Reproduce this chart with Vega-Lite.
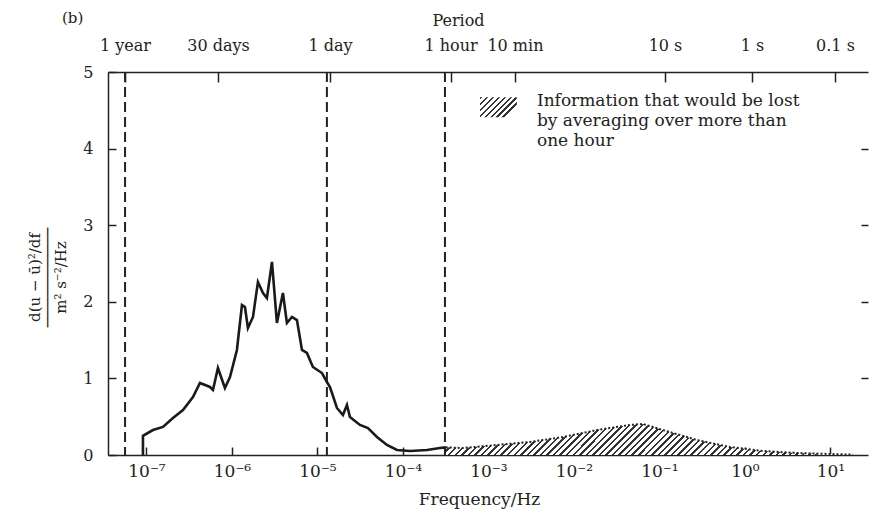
{
  "$schema": "https://vega.github.io/schema/vega-lite/v6.json",
  "width": 760,
  "height": 383,
  "autosize": {"type": "none"},
  "padding": {"left": 108, "top": 72, "right": 4, "bottom": 59},
  "background": "white",
  "config": {
    "view": {"stroke": null},
    "font": "DejaVu Serif",
    "axis": {"grid": false, "labelFont": "DejaVu Serif", "titleFont": "DejaVu Serif", "labelColor": "#222", "titleColor": "#222", "domainColor": "#222", "tickColor": "#222", "titleFontWeight": "normal", "domainWidth": 1.5, "tickWidth": 1.5, "labelFlush": false, "labelOverlap": false}
  },
  "title": {"text": "(b)", "anchor": "start", "frame": "group", "dx": -46, "dy": 14, "font": "DejaVu Serif", "fontSize": 15, "fontWeight": "normal", "color": "#222", "offset": 0},
  "datasets": {
    "curve": [
      {"f": 9.10e-8, "v": 0}, {"f": 9.10e-8, "v": 0.25}, {"f": 1.191e-7, "v": 0.326}, {"f": 1.560e-7, "v": 0.366},
      {"f": 2.042e-7, "v": 0.483}, {"f": 2.673e-7, "v": 0.587}, {"f": 3.499e-7, "v": 0.757}, {"f": 4.227e-7, "v": 0.94},
      {"f": 5.534e-7, "v": 0.888}, {"f": 5.998e-7, "v": 0.849}, {"f": 6.855e-7, "v": 1.136}, {"f": 8.279e-7, "v": 0.875},
      {"f": 9.484e-7, "v": 1.018}, {"f": 1.143e-6, "v": 1.371}, {"f": 1.309e-6, "v": 1.958}, {"f": 1.419e-6, "v": 1.932},
      {"f": 1.538e-6, "v": 1.658}, {"f": 1.762e-6, "v": 1.802}, {"f": 2.014e-6, "v": 2.258}, {"f": 2.307e-6, "v": 2.115},
      {"f": 2.564e-6, "v": 2.05}, {"f": 2.938e-6, "v": 2.52}, {"f": 3.357e-6, "v": 1.723}, {"f": 3.945e-6, "v": 2.115},
      {"f": 4.395e-6, "v": 1.723}, {"f": 5.035e-6, "v": 1.802}, {"f": 5.754e-6, "v": 1.762}, {"f": 6.592e-6, "v": 1.371},
      {"f": 7.534e-6, "v": 1.332}, {"f": 8.851e-6, "v": 1.149}, {"f": 1.130e-5, "v": 1.07}, {"f": 1.291e-5, "v": 0.953},
      {"f": 1.400e-5, "v": 0.888}, {"f": 1.479e-5, "v": 0.809}, {"f": 1.690e-5, "v": 0.614}, {"f": 1.986e-5, "v": 0.522},
      {"f": 2.213e-5, "v": 0.653}, {"f": 2.399e-5, "v": 0.496}, {"f": 3.141e-5, "v": 0.392}, {"f": 3.899e-5, "v": 0.352},
      {"f": 4.966e-5, "v": 0.235}, {"f": 6.501e-5, "v": 0.131}, {"f": 8.511e-5, "v": 0.065}, {"f": 1.208e-4, "v": 0.052},
      {"f": 1.910e-4, "v": 0.065}, {"f": 2.710e-4, "v": 0.091}, {"f": 3.162e-4, "v": 0.1}
    ],
    "hatch": [
      {"f": 3.162e-4, "v": 0.1}, {"f": 5.035e-4, "v": 0.091}, {"f": 1.256e-3, "v": 0.131}, {"f": 3.055e-3, "v": 0.17},
      {"f": 7.430e-3, "v": 0.235}, {"f": 1.858e-2, "v": 0.326}, {"f": 4.519e-2, "v": 0.392}, {"f": 6.412e-2, "v": 0.405},
      {"f": 0.1099, "v": 0.326}, {"f": 0.2748, "v": 0.196}, {"f": 0.6683, "v": 0.104}, {"f": 1.626, "v": 0.052},
      {"f": 4.055, "v": 0.026}, {"f": 9.863, "v": 0.013}, {"f": 18.32, "v": 0.005}
    ],
    "periods": [{"f": 5.62e-8}, {"f": 1.29e-5}, {"f": 3.1e-4}],
    "swatch": [{"f1": 7.96e-4, "f2": 2.15e-3, "v1": 4.41, "v2": 4.67}],
    "note": [{"f": 3.69e-3, "v": 4.56, "label": "Information that would be lost\nby averaging over more than\none hour"}]
  },
  "layer": [
    {
      "data": {"name": "hatch"},
      "mark": {"type": "area", "stroke": null, "fill": {"gradient": "linear", "x1": 0, "y1": 0, "x2": 1, "y2": 0.076, "stops": [
        {"offset":0,"color":"#333"},{"offset":0.006,"color":"#333"},{"offset":0.006,"color":"#fff"},{"offset":0.016,"color":"#fff"},
        {"offset":0.016,"color":"#333"},{"offset":0.022,"color":"#333"},{"offset":0.022,"color":"#fff"},{"offset":0.032,"color":"#fff"},
        {"offset":0.032,"color":"#333"},{"offset":0.038,"color":"#333"},{"offset":0.038,"color":"#fff"},{"offset":0.048,"color":"#fff"},
        {"offset":0.048,"color":"#333"},{"offset":0.054,"color":"#333"},{"offset":0.054,"color":"#fff"},{"offset":0.064,"color":"#fff"},
        {"offset":0.064,"color":"#333"},{"offset":0.07,"color":"#333"},{"offset":0.07,"color":"#fff"},{"offset":0.08,"color":"#fff"},
        {"offset":0.08,"color":"#333"},{"offset":0.086,"color":"#333"},{"offset":0.086,"color":"#fff"},{"offset":0.096,"color":"#fff"},
        {"offset":0.096,"color":"#333"},{"offset":0.102,"color":"#333"},{"offset":0.102,"color":"#fff"},{"offset":0.112,"color":"#fff"},
        {"offset":0.112,"color":"#333"},{"offset":0.118,"color":"#333"},{"offset":0.118,"color":"#fff"},{"offset":0.128,"color":"#fff"},
        {"offset":0.128,"color":"#333"},{"offset":0.134,"color":"#333"},{"offset":0.134,"color":"#fff"},{"offset":0.144,"color":"#fff"},
        {"offset":0.144,"color":"#333"},{"offset":0.15,"color":"#333"},{"offset":0.15,"color":"#fff"},{"offset":0.16,"color":"#fff"},
        {"offset":0.16,"color":"#333"},{"offset":0.166,"color":"#333"},{"offset":0.166,"color":"#fff"},{"offset":0.176,"color":"#fff"},
        {"offset":0.176,"color":"#333"},{"offset":0.182,"color":"#333"},{"offset":0.182,"color":"#fff"},{"offset":0.192,"color":"#fff"},
        {"offset":0.192,"color":"#333"},{"offset":0.198,"color":"#333"},{"offset":0.198,"color":"#fff"},{"offset":0.208,"color":"#fff"},
        {"offset":0.208,"color":"#333"},{"offset":0.214,"color":"#333"},{"offset":0.214,"color":"#fff"},{"offset":0.224,"color":"#fff"},
        {"offset":0.224,"color":"#333"},{"offset":0.23,"color":"#333"},{"offset":0.23,"color":"#fff"},{"offset":0.24,"color":"#fff"},
        {"offset":0.24,"color":"#333"},{"offset":0.246,"color":"#333"},{"offset":0.246,"color":"#fff"},{"offset":0.256,"color":"#fff"},
        {"offset":0.256,"color":"#333"},{"offset":0.262,"color":"#333"},{"offset":0.262,"color":"#fff"},{"offset":0.272,"color":"#fff"},
        {"offset":0.272,"color":"#333"},{"offset":0.278,"color":"#333"},{"offset":0.278,"color":"#fff"},{"offset":0.288,"color":"#fff"},
        {"offset":0.288,"color":"#333"},{"offset":0.294,"color":"#333"},{"offset":0.294,"color":"#fff"},{"offset":0.304,"color":"#fff"},
        {"offset":0.304,"color":"#333"},{"offset":0.31,"color":"#333"},{"offset":0.31,"color":"#fff"},{"offset":0.32,"color":"#fff"},
        {"offset":0.32,"color":"#333"},{"offset":0.326,"color":"#333"},{"offset":0.326,"color":"#fff"},{"offset":0.336,"color":"#fff"},
        {"offset":0.336,"color":"#333"},{"offset":0.342,"color":"#333"},{"offset":0.342,"color":"#fff"},{"offset":0.352,"color":"#fff"},
        {"offset":0.352,"color":"#333"},{"offset":0.358,"color":"#333"},{"offset":0.358,"color":"#fff"},{"offset":0.368,"color":"#fff"},
        {"offset":0.368,"color":"#333"},{"offset":0.374,"color":"#333"},{"offset":0.374,"color":"#fff"},{"offset":0.384,"color":"#fff"},
        {"offset":0.384,"color":"#333"},{"offset":0.39,"color":"#333"},{"offset":0.39,"color":"#fff"},{"offset":0.4,"color":"#fff"},
        {"offset":0.4,"color":"#333"},{"offset":0.406,"color":"#333"},{"offset":0.406,"color":"#fff"},{"offset":0.416,"color":"#fff"},
        {"offset":0.416,"color":"#333"},{"offset":0.422,"color":"#333"},{"offset":0.422,"color":"#fff"},{"offset":0.432,"color":"#fff"},
        {"offset":0.432,"color":"#333"},{"offset":0.438,"color":"#333"},{"offset":0.438,"color":"#fff"},{"offset":0.448,"color":"#fff"},
        {"offset":0.448,"color":"#333"},{"offset":0.454,"color":"#333"},{"offset":0.454,"color":"#fff"},{"offset":0.464,"color":"#fff"},
        {"offset":0.464,"color":"#333"},{"offset":0.47,"color":"#333"},{"offset":0.47,"color":"#fff"},{"offset":0.48,"color":"#fff"},
        {"offset":0.48,"color":"#333"},{"offset":0.486,"color":"#333"},{"offset":0.486,"color":"#fff"},{"offset":0.496,"color":"#fff"},
        {"offset":0.496,"color":"#333"},{"offset":0.502,"color":"#333"},{"offset":0.502,"color":"#fff"},{"offset":0.512,"color":"#fff"},
        {"offset":0.512,"color":"#333"},{"offset":0.518,"color":"#333"},{"offset":0.518,"color":"#fff"},{"offset":0.528,"color":"#fff"},
        {"offset":0.528,"color":"#333"},{"offset":0.534,"color":"#333"},{"offset":0.534,"color":"#fff"},{"offset":0.544,"color":"#fff"},
        {"offset":0.544,"color":"#333"},{"offset":0.55,"color":"#333"},{"offset":0.55,"color":"#fff"},{"offset":0.56,"color":"#fff"},
        {"offset":0.56,"color":"#333"},{"offset":0.566,"color":"#333"},{"offset":0.566,"color":"#fff"},{"offset":0.576,"color":"#fff"},
        {"offset":0.576,"color":"#333"},{"offset":0.582,"color":"#333"},{"offset":0.582,"color":"#fff"},{"offset":0.592,"color":"#fff"},
        {"offset":0.592,"color":"#333"},{"offset":0.598,"color":"#333"},{"offset":0.598,"color":"#fff"},{"offset":0.608,"color":"#fff"},
        {"offset":0.608,"color":"#333"},{"offset":0.614,"color":"#333"},{"offset":0.614,"color":"#fff"},{"offset":0.624,"color":"#fff"},
        {"offset":0.624,"color":"#333"},{"offset":0.63,"color":"#333"},{"offset":0.63,"color":"#fff"},{"offset":0.64,"color":"#fff"},
        {"offset":0.64,"color":"#333"},{"offset":0.646,"color":"#333"},{"offset":0.646,"color":"#fff"},{"offset":0.656,"color":"#fff"},
        {"offset":0.656,"color":"#333"},{"offset":0.662,"color":"#333"},{"offset":0.662,"color":"#fff"},{"offset":0.672,"color":"#fff"},
        {"offset":0.672,"color":"#333"},{"offset":0.678,"color":"#333"},{"offset":0.678,"color":"#fff"},{"offset":0.688,"color":"#fff"},
        {"offset":0.688,"color":"#333"},{"offset":0.694,"color":"#333"},{"offset":0.694,"color":"#fff"},{"offset":0.704,"color":"#fff"},
        {"offset":0.704,"color":"#333"},{"offset":0.71,"color":"#333"},{"offset":0.71,"color":"#fff"},{"offset":0.72,"color":"#fff"},
        {"offset":0.72,"color":"#333"},{"offset":0.726,"color":"#333"},{"offset":0.726,"color":"#fff"},{"offset":0.736,"color":"#fff"},
        {"offset":0.736,"color":"#333"},{"offset":0.742,"color":"#333"},{"offset":0.742,"color":"#fff"},{"offset":0.752,"color":"#fff"},
        {"offset":0.752,"color":"#333"},{"offset":0.758,"color":"#333"},{"offset":0.758,"color":"#fff"},{"offset":0.768,"color":"#fff"},
        {"offset":0.768,"color":"#333"},{"offset":0.774,"color":"#333"},{"offset":0.774,"color":"#fff"},{"offset":0.784,"color":"#fff"},
        {"offset":0.784,"color":"#333"},{"offset":0.79,"color":"#333"},{"offset":0.79,"color":"#fff"},{"offset":0.8,"color":"#fff"},
        {"offset":0.8,"color":"#333"},{"offset":0.806,"color":"#333"},{"offset":0.806,"color":"#fff"},{"offset":0.816,"color":"#fff"},
        {"offset":0.816,"color":"#333"},{"offset":0.822,"color":"#333"},{"offset":0.822,"color":"#fff"},{"offset":0.832,"color":"#fff"},
        {"offset":0.832,"color":"#333"},{"offset":0.838,"color":"#333"},{"offset":0.838,"color":"#fff"},{"offset":0.848,"color":"#fff"},
        {"offset":0.848,"color":"#333"},{"offset":0.854,"color":"#333"},{"offset":0.854,"color":"#fff"},{"offset":0.864,"color":"#fff"},
        {"offset":0.864,"color":"#333"},{"offset":0.87,"color":"#333"},{"offset":0.87,"color":"#fff"},{"offset":0.88,"color":"#fff"},
        {"offset":0.88,"color":"#333"},{"offset":0.886,"color":"#333"},{"offset":0.886,"color":"#fff"},{"offset":0.896,"color":"#fff"},
        {"offset":0.896,"color":"#333"},{"offset":0.902,"color":"#333"},{"offset":0.902,"color":"#fff"},{"offset":0.912,"color":"#fff"},
        {"offset":0.912,"color":"#333"},{"offset":0.918,"color":"#333"},{"offset":0.918,"color":"#fff"},{"offset":0.928,"color":"#fff"},
        {"offset":0.928,"color":"#333"},{"offset":0.934,"color":"#333"},{"offset":0.934,"color":"#fff"},{"offset":0.944,"color":"#fff"},
        {"offset":0.944,"color":"#333"},{"offset":0.95,"color":"#333"},{"offset":0.95,"color":"#fff"},{"offset":0.96,"color":"#fff"},
        {"offset":0.96,"color":"#333"},{"offset":0.966,"color":"#333"},{"offset":0.966,"color":"#fff"},{"offset":0.976,"color":"#fff"},
        {"offset":0.976,"color":"#333"},{"offset":0.982,"color":"#333"},{"offset":0.982,"color":"#fff"},{"offset":1,"color":"#fff"}
      ]}},
      "encoding": {
        "x": {"field": "f", "type": "quantitative", "scale": {"type": "log", "domain": [3.55e-8, 27.5], "nice": false}, "axis": null},
        "y": {"field": "v", "type": "quantitative", "scale": {"domain": [0, 5], "nice": false}, "axis": null}
      }
    },
    {
      "data": {"name": "hatch"},
      "mark": {"type": "line", "color": "#222", "strokeWidth": 2, "strokeDash": [2, 2]},
      "encoding": {
        "x": {"field": "f", "type": "quantitative", "scale": {"type": "log", "domain": [3.55e-8, 27.5], "nice": false}, "axis": null},
        "y": {"field": "v", "type": "quantitative", "scale": {"domain": [0, 5], "nice": false},
              "axis": {"orient": "right", "values": [1, 2, 3, 4], "labels": false, "domain": false, "tickSize": -7, "title": null}}
      }
    },
    {
      "data": {"name": "periods"},
      "mark": {"type": "rule", "color": "#222", "strokeWidth": 2, "strokeDash": [10, 5]},
      "encoding": {
        "x": {"field": "f", "type": "quantitative", "scale": {"type": "log", "domain": [3.55e-8, 27.5], "nice": false},
              "axis": {"orient": "top", "values": [5.61e-8, 6.86e-7, 1.4e-5, 3.6e-4, 2.04e-3, 0.116, 1.208, 11.3],
                       "labelExpr": "datum.value < 1e-7 ? '1 year' : datum.value < 1e-6 ? '30 days' : datum.value < 1e-4 ? '1 day' : datum.value < 1e-3 ? '1 hour' : datum.value < 1e-2 ? '10 min' : datum.value < 1 ? '10 s' : datum.value < 5 ? '1 s' : '0.1 s'",
                       "tickSize": -10, "labelPadding": 29, "labelFontSize": 16,
                       "title": "Period", "titleFontSize": 16, "titleX": 350, "titleY": -47, "titleBaseline": "alphabetic", "titleAnchor": "middle"}}
      }
    },
    {
      "data": {"name": "curve"},
      "mark": {"type": "line", "color": "#1a1a1a", "strokeWidth": 2.6},
      "encoding": {
        "x": {"field": "f", "type": "quantitative", "scale": {"type": "log", "domain": [3.55e-8, 27.5], "nice": false},
              "axis": {"orient": "bottom", "values": [1e-7, 1e-6, 1e-5, 1e-4, 1e-3, 1e-2, 1e-1, 1, 10],
                       "labelExpr": "['10⁻⁷','10⁻⁶','10⁻⁵','10⁻⁴','10⁻³','10⁻²','10⁻¹','10⁰','10¹'][round(log(datum.value)/LN10)+7]",
                       "tickSize": -8, "labelPadding": 16, "labelFontSize": 17,
                       "title": "Frequency/Hz", "titleFontSize": 17, "titleX": 371, "titleY": 44, "titleBaseline": "middle"}},
        "y": {"field": "v", "type": "quantitative", "scale": {"domain": [0, 5], "nice": false},
              "axis": {"orient": "left", "values": [0, 1, 2, 3, 4, 5], "tickSize": -8, "labelPadding": 23, "labelFontSize": 16,
                       "title": ["d(u − ū)²/df", "───────────", "m² s⁻²/Hz"], "titleFontSize": 15, "titleLineHeight": 13, "titlePadding": 14, "titleY": 205}}
      }
    },
    {
      "data": {"name": "swatch"},
      "mark": {"type": "rect", "fill": {"gradient": "linear", "x1": 0, "y1": 0, "x2": 1, "y2": 0.54, "stops": [
        {"offset":0,"color":"#333"},{"offset":0.045,"color":"#333"},{"offset":0.045,"color":"#fff"},{"offset":0.125,"color":"#fff"},
        {"offset":0.125,"color":"#333"},{"offset":0.17,"color":"#333"},{"offset":0.17,"color":"#fff"},{"offset":0.25,"color":"#fff"},
        {"offset":0.25,"color":"#333"},{"offset":0.295,"color":"#333"},{"offset":0.295,"color":"#fff"},{"offset":0.375,"color":"#fff"},
        {"offset":0.375,"color":"#333"},{"offset":0.42,"color":"#333"},{"offset":0.42,"color":"#fff"},{"offset":0.5,"color":"#fff"},
        {"offset":0.5,"color":"#333"},{"offset":0.545,"color":"#333"},{"offset":0.545,"color":"#fff"},{"offset":0.625,"color":"#fff"},
        {"offset":0.625,"color":"#333"},{"offset":0.67,"color":"#333"},{"offset":0.67,"color":"#fff"},{"offset":0.75,"color":"#fff"},
        {"offset":0.75,"color":"#333"},{"offset":0.795,"color":"#333"},{"offset":0.795,"color":"#fff"},{"offset":0.875,"color":"#fff"},
        {"offset":0.875,"color":"#333"},{"offset":0.92,"color":"#333"},{"offset":0.92,"color":"#fff"},{"offset":1,"color":"#fff"}
      ]}},
      "encoding": {
        "x": {"field": "f1", "type": "quantitative", "scale": {"type": "log", "domain": [3.55e-8, 27.5], "nice": false}, "axis": null},
        "x2": {"field": "f2"},
        "y": {"field": "v1", "type": "quantitative", "scale": {"domain": [0, 5], "nice": false}, "axis": null},
        "y2": {"field": "v2"}
      }
    },
    {
      "data": {"name": "note"},
      "mark": {"type": "text", "align": "left", "baseline": "alphabetic", "font": "DejaVu Serif", "fontSize": 17, "lineHeight": 20, "lineBreak": "\n", "color": "#222"},
      "encoding": {
        "x": {"field": "f", "type": "quantitative", "scale": {"type": "log", "domain": [3.55e-8, 27.5], "nice": false}, "axis": null},
        "y": {"field": "v", "type": "quantitative", "scale": {"domain": [0, 5], "nice": false}, "axis": null},
        "text": {"field": "label"}
      }
    }
  ],
  "resolve": {"axis": {"x": "independent", "y": "independent"}}
}
